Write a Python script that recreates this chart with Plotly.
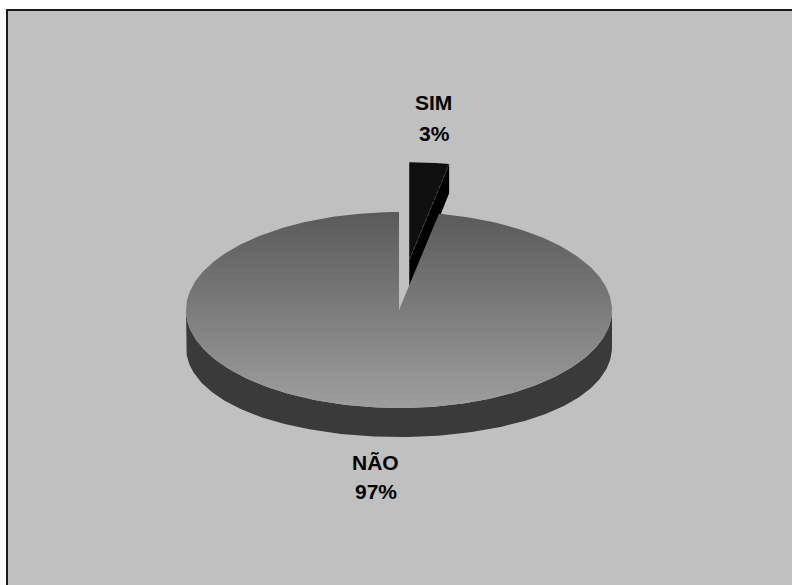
import numpy as np
import plotly.graph_objects as go

# Survey answers (percent of respondents)
categories = ["SIM", "NÃO"]
values = [3, 97]
explode = [0.51, 0.0]

# Styling for each slice: top face, side face
top_colors = ["#0f0f0f", None]          # None -> gradient fill
side_colors = ["#000000", "#3a3a3a"]
grad_dark, grad_light = "#5a5a5a", "#9e9e9e"

# Pie geometry in page pixels (x right, y down)
W, H = 792, 585
CX, CY, RX, RY = 399, 310, 213, 98      # top ellipse
D_SIDE, D_FRONT, D_CENTER = 37, 29, 33  # rim thickness (slight perspective)

# Label anchors (name line, value line)
label_pos = {"SIM": ((433, 102), (434, 133)), "NÃO": ((375, 462), (376, 491))}
FONT = dict(family="Liberation Sans, Arial, sans-serif", size=21, color="#000000")


def depth(a):
    return D_SIDE - (D_SIDE - D_FRONT) * np.cos(np.radians(a)) ** 2


def top_pt(a, ox=0.0, oy=0.0):
    t = np.radians(a)
    return CX + ox + RX * np.sin(t), CY + oy - RY * np.cos(t)


def bot_pt(a, ox=0.0, oy=0.0):
    x, y = top_pt(a, ox, oy)
    return x, y + depth(a)


total = sum(values)
bounds = np.concatenate([[0.0], np.cumsum(values) / total * 360.0])

fig = go.Figure()
traces_back, traces_front = [], []

for i, (name, v) in enumerate(zip(categories, values)):
    a0, a1 = bounds[i], bounds[i + 1]
    mid = (a0 + a1) / 2
    ox = explode[i] * RX * np.sin(np.radians(mid))
    oy = -explode[i] * RY * np.cos(np.radians(mid))
    group = []

    # outer rim, front half only
    s0, s1 = max(a0, 90.0), min(a1, 270.0)
    if s1 > s0:
        arc = np.linspace(s0, s1, 200)
        tx, ty = top_pt(arc, ox, oy)
        bx, by = bot_pt(arc[::-1], ox, oy)
        group.append(go.Scatter(x=np.r_[tx, bx], y=np.r_[ty, by], fill="toself",
                                mode="lines", line=dict(width=0),
                                fillcolor=side_colors[i], hoverinfo="skip"))

    # cut face at the clockwise end, visible when it faces the viewer
    if 0 < (a1 % 360) < 180:
        px, py = top_pt(a1, ox, oy)
        qx, qy = bot_pt(a1, ox, oy)
        ccx, ccy = CX + ox, CY + oy
        group.append(go.Scatter(x=[ccx, px, qx, ccx, ccx],
                                y=[ccy, py, qy, ccy + D_CENTER, ccy],
                                fill="toself", mode="lines", line=dict(width=0),
                                fillcolor=side_colors[i], hoverinfo="skip"))

    # top face
    arc = np.linspace(a0, a1, 400)
    tx, ty = top_pt(arc, ox, oy)
    xs = np.r_[CX + ox, tx, CX + ox]
    ys = np.r_[CY + oy, ty, CY + oy]
    if top_colors[i] is None:
        group.append(go.Scatter(x=xs, y=ys, fill="toself", mode="lines",
                                line=dict(width=0),
                                fillgradient=dict(type="vertical",
                                                  colorscale=[[0, grad_dark], [1, grad_light]],
                                                  start=CY - RY, stop=CY + RY),
                                hoverinfo="skip"))
    else:
        group.append(go.Scatter(x=xs, y=ys, fill="toself", mode="lines",
                                line=dict(width=0), fillcolor=top_colors[i],
                                hoverinfo="skip"))
        ex, ey = top_pt(a1, ox, oy)
        group.append(go.Scatter(x=[CX + ox, ex], y=[CY + oy, ey], mode="lines",
                                line=dict(color="#5a5a5a", width=0.6, dash="dot"),
                                hoverinfo="skip"))

    # exploded slices sit behind the main body
    (traces_back if explode[i] > 0 else traces_front).extend(group)

    pct = f"{round(v / total * 100)}%"
    (nx, ny), (vx, vy) = label_pos[name]
    fig.add_annotation(x=nx, y=ny, text=f"<b>{name}</b>", showarrow=False, font=FONT,
                       xanchor="center", yanchor="middle")
    fig.add_annotation(x=vx, y=vy, text=f"<b>{pct}</b>", showarrow=False, font=FONT,
                       xanchor="center", yanchor="middle")

for t in traces_back + traces_front:
    fig.add_trace(t)

fig.add_shape(type="rect", x0=7, y0=10, x1=W + 20, y1=H + 20, layer="below",
              line=dict(color="#1a1a1a", width=2), fillcolor="#c0c0c0")

fig.update_layout(
    width=W, height=H, autosize=False,
    margin=dict(l=0, r=0, t=0, b=0, pad=0),
    paper_bgcolor="#ffffff", plot_bgcolor="#ffffff",
    showlegend=False,
    xaxis=dict(range=[0, W], visible=False, fixedrange=True),
    yaxis=dict(range=[H, 0], visible=False, fixedrange=True),
)

fig.write_html("out.html")
